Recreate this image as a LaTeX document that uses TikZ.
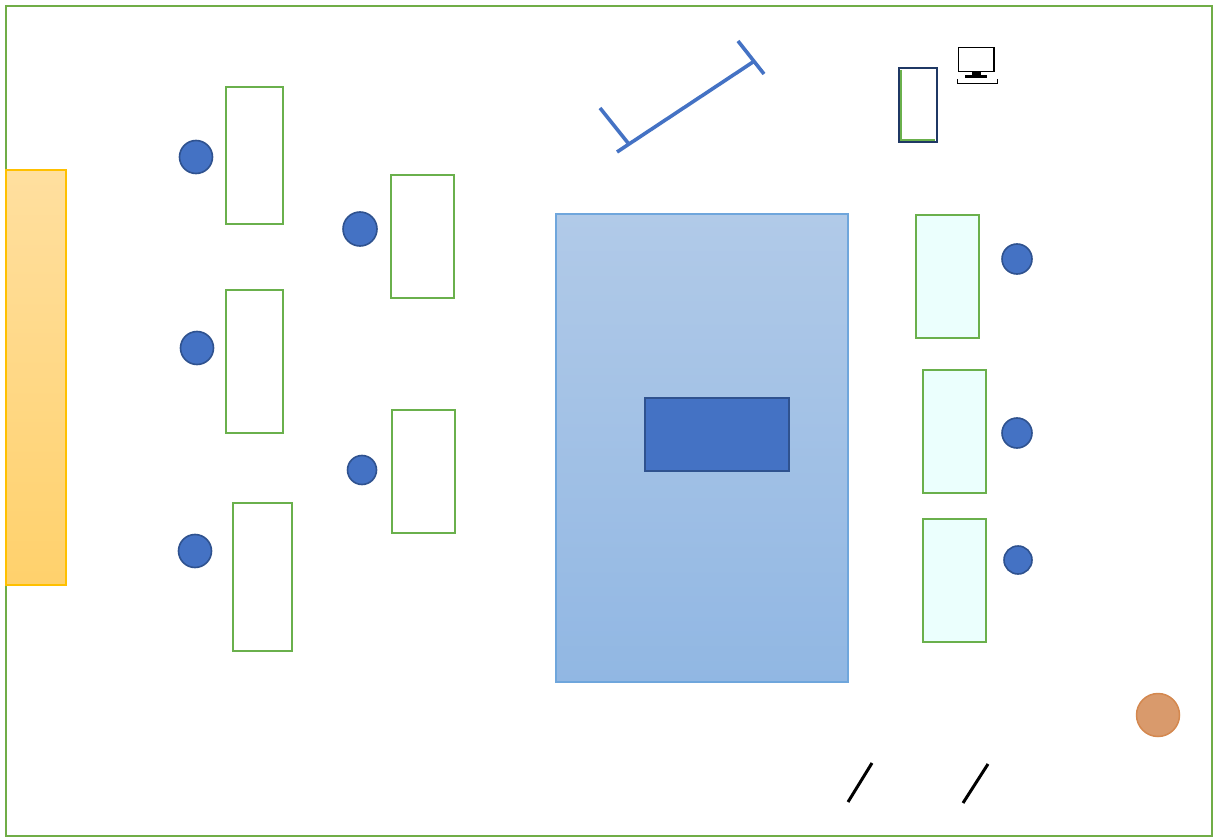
\documentclass[tikz,border=0pt]{standalone}
\begin{document}
\begin{tikzpicture}[x=1pt,y=-1pt,
  desk/.style={draw=deskgreen,line width=2.2pt},
  rdesk/.style={desk,fill=deskcyan},
  chair/.style={circle,fill=chairblue,draw=chairedge,line width=1.6pt,inner sep=0pt},
  slash/.style={line width=3pt,black},
  screenline/.style={line width=3.6pt,chairblue}]
\definecolor{deskgreen}{HTML}{6AB04C}
\definecolor{deskcyan}{HTML}{EBFFFD}
\definecolor{chairblue}{HTML}{4472C4}
\definecolor{chairedge}{HTML}{2F528F}
\definecolor{borderg}{HTML}{70AD47}
\definecolor{ytop}{HTML}{FFDF9F}
\definecolor{ybot}{HTML}{FFD16C}
\definecolor{yedge}{HTML}{FFC000}
\definecolor{btop}{HTML}{B1CAE8}
\definecolor{bbot}{HTML}{91B7E3}
\definecolor{bedge}{HTML}{6FA6DC}
\definecolor{navy}{HTML}{1F3864}
\definecolor{orangef}{HTML}{D99A6C}
\definecolor{orangee}{HTML}{D4884F}
\useasboundingbox (0,0) rectangle (1213,837);
\fill[white] (0,0) rectangle (1213,837);
% outer wall
\draw[borderg,line width=2.5pt] (6,6) rectangle (1212,836);
% yellow stage
\shade[top color=ytop,bottom color=ybot] (6,170) rectangle (66,585);
\draw[yedge,line width=1.5pt] (6,170) rectangle (66,585);
% left desks
\draw[desk] (226,87) rectangle (283,224);
\draw[desk] (391,175) rectangle (454,298);
\draw[desk] (226,290) rectangle (283,433);
\draw[desk] (392,410) rectangle (455,533);
\draw[desk] (233,503) rectangle (292,651);
% right desks
\draw[rdesk] (916,215) rectangle (979,338);
\draw[rdesk] (923,370) rectangle (986,493);
\draw[rdesk] (923,519) rectangle (986,642);
% chairs
\node[chair,minimum size=33pt] (c1) at (196,157) {};
\node[chair,minimum size=34pt] (c2) at (360,229) {};
\node[chair,minimum size=33pt] (c3) at (197,348) {};
\node[chair,minimum size=29pt] (c4) at (362,470) {};
\node[chair,minimum size=33pt] (c5) at (195,551) {};
\node[chair,minimum size=30pt] (c6) at (1017,259) {};
\node[chair,minimum size=30pt] (c7) at (1017,433) {};
\node[chair,minimum size=28pt] (c8) at (1018,560) {};
% big table
\shade[top color=btop,bottom color=bbot] (556,214) rectangle (848,682);
\draw[bedge,line width=1.2pt] (556,214) rectangle (848,682);
\draw[fill=chairblue,draw=chairedge,line width=2.2pt] (645,398) rectangle (789,471);
% projection screen
\draw[screenline] (617,152) -- (753,62);
\draw[screenline] (738,41) -- (764,74);
\draw[screenline] (600,108) -- (628,143);
% podium
\draw[deskgreen,line width=1.5pt] (901,70) -- (901,140) -- (935,140);
\draw[navy,line width=2pt] (899,68) rectangle (937,142);
% computer icon
\draw[black,line width=1.6pt] (958.5,47.5) rectangle (994,71.5);
\fill[black] (971.5,71.5) rectangle (980.5,75.5);
\fill[black] (965,75.5) rectangle (987,77.8);
\draw[black,line width=0.8pt] (957,79.5) -- (957,83.5) -- (997,83.5) -- (997,79.5);
% orange
\node[circle,fill=orangef,draw=orangee,line width=1.5pt,minimum size=43pt,inner sep=0pt] (o) at (1158,715) {};
% doors
\draw[slash] (848,802) -- (872,763);
\draw[slash] (963,803) -- (988,764);
\end{tikzpicture}
\end{document}
